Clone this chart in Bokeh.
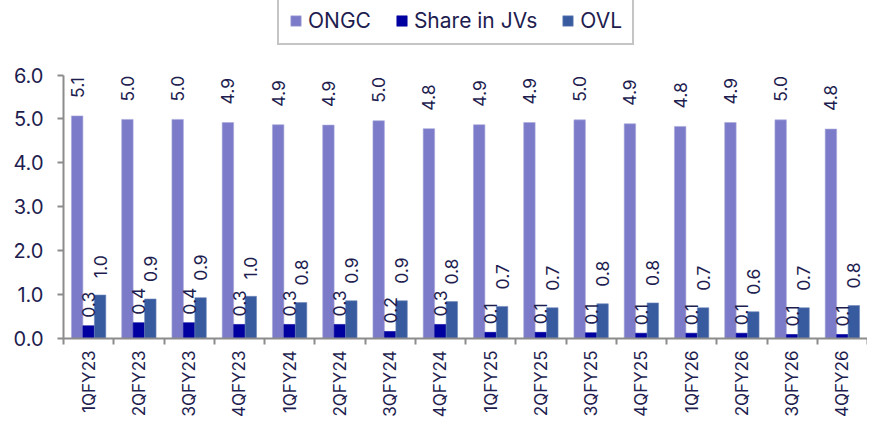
import numpy as np
from bokeh.plotting import figure
from bokeh.models import (ColumnDataSource, FixedTicker, Legend, LegendItem,
                          LabelSet, Range1d)
from bokeh.core.properties import value
from bokeh.embed import file_html
from bokeh.resources import INLINE

quarters = ["1QFY23", "2QFY23", "3QFY23", "4QFY23", "1QFY24", "2QFY24", "3QFY24", "4QFY24",
            "1QFY25", "2QFY25", "3QFY25", "4QFY25", "1QFY26", "2QFY26", "3QFY26", "4QFY26"]
ongc = [5.07, 4.99, 4.99, 4.92, 4.87, 4.86, 4.96, 4.78, 4.87, 4.92, 4.98, 4.89, 4.83, 4.92, 4.98, 4.77]
share_jv = [0.29, 0.36, 0.36, 0.32, 0.32, 0.32, 0.16, 0.32, 0.14, 0.14, 0.13, 0.12, 0.12, 0.12, 0.09, 0.09]
ovl = [0.99, 0.90, 0.93, 0.96, 0.82, 0.86, 0.86, 0.84, 0.73, 0.70, 0.79, 0.81, 0.70, 0.61, 0.70, 0.75]
y_ticks = [0, 1, 2, 3, 4, 5, 6]

FONT = "Inter"
TXT = "#1e1d4f"
C_ONGC = "#7b7bc9"
C_JV = "#0000a0"
C_OVL = "#385a9e"
AX = "#8c8c8c"

W, H = 867, 420
LEFT, BOTTOM = 63, 80
Y_TOP_PX = 75          # pixel row of the 6.0 tick
frame_h = H - BOTTOM
y_max = 6 * frame_h / (frame_h - Y_TOP_PX)

n = len(quarters)
centers = np.arange(n) + 0.5
bw = 0.228

def fmt(v):
    return ["%.1f" % x for x in v]

src = ColumnDataSource(dict(
    x_ongc=centers - bw, x_jv=centers, x_ovl=centers + bw,
    ongc=ongc, jv=share_jv, ovl=ovl,
    l_ongc=fmt(ongc), l_jv=fmt(share_jv), l_ovl=fmt(ovl),
))

p = figure(width=W, height=H, output_backend="svg", toolbar_location=None,
           x_range=Range1d(0, n), y_range=Range1d(0, y_max),
           min_border_left=LEFT, min_border_right=0, min_border_top=0,
           min_border_bottom=BOTTOM)
p.outline_line_color = None
p.xgrid.visible = False
p.ygrid.visible = False
p.background_fill_color = "white"
p.border_fill_color = "white"

r1 = p.vbar(x="x_ongc", top="ongc", width=bw, source=src, fill_color=C_ONGC,
            line_color="#a9a9dc", line_width=0.6)
r2 = p.vbar(x="x_jv", top="jv", width=bw, source=src, fill_color=C_JV,
            line_color=C_JV, line_width=0.6)
r3 = p.vbar(x="x_ovl", top="ovl", width=bw, source=src, fill_color=C_OVL,
            line_color="#6f88bb", line_width=0.6)

for xcol, ycol, lcol, off in [("x_ongc", "ongc", "l_ongc", 18),
                              ("x_jv", "jv", "l_jv", 8),
                              ("x_ovl", "ovl", "l_ovl", 17)]:
    ls = LabelSet(x=xcol, y=ycol, text=lcol, source=src, angle=np.pi / 2,
                  text_align="left", text_baseline="middle", y_offset=off,
                  text_font=value(FONT), text_font_size="17.5px", text_color=TXT)
    p.add_layout(ls)

# y axis
p.yaxis.ticker = FixedTicker(ticks=y_ticks)
p.yaxis.bounds = (0, 6)
p.yaxis.major_label_overrides = {t: "%.1f" % t for t in y_ticks}
p.yaxis.minor_tick_line_color = None
p.yaxis.major_tick_in = 0
p.yaxis.major_tick_out = 6
p.yaxis.major_label_standoff = 14
p.yaxis.axis_line_color = AX
p.yaxis.axis_line_width = 2
p.yaxis.major_tick_line_color = AX
p.yaxis.major_tick_line_width = 2
p.yaxis.major_label_text_font = FONT
p.yaxis.major_label_text_font_size = "20px"
p.yaxis.major_label_text_color = TXT

# x axis: labels at centers, tick marks at boundaries
p.xaxis.ticker = FixedTicker(ticks=list(centers), minor_ticks=list(range(n + 1)))
p.xaxis.major_label_overrides = {float(c): q for c, q in zip(centers, quarters)}
p.xaxis.major_label_orientation = np.pi / 2
p.xaxis.major_tick_in = 0
p.xaxis.major_tick_out = 0
p.xaxis.minor_tick_in = 0
p.xaxis.minor_tick_out = 6
p.xaxis.minor_tick_line_color = AX
p.xaxis.minor_tick_line_width = 2
p.xaxis.major_label_standoff = 6
p.xaxis.axis_line_color = AX
p.xaxis.axis_line_width = 2
p.xaxis.major_label_text_font = FONT
p.xaxis.major_label_text_font_size = "17px"
p.xaxis.major_label_text_color = TXT

legend = Legend(items=[LegendItem(label="ONGC", renderers=[r1]),
                       LegendItem(label="Share in JVs", renderers=[r2]),
                       LegendItem(label="OVL", renderers=[r3])],
                location=(214, frame_h - 47), orientation="horizontal",
                glyph_width=13, glyph_height=13, label_standoff=6, spacing=24,
                padding=10, margin=0,
                border_line_color=AX, border_line_width=2,
                label_text_font=FONT, label_text_font_size="21px",
                label_text_color=TXT, background_fill_color="white")
p.add_layout(legend, "center")

open("out.html", "w").write(file_html(p, INLINE))
